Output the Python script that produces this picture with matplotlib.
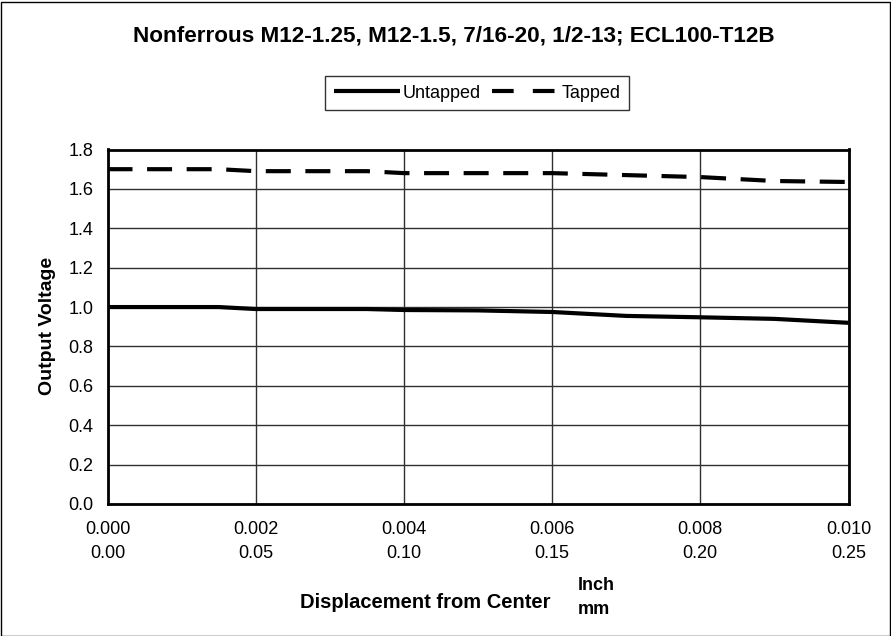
import matplotlib
matplotlib.use("Agg")
import matplotlib.pyplot as plt
from matplotlib.patches import Rectangle
from matplotlib.lines import Line2D

plt.rcParams['font.family'] = ['Liberation Sans', 'DejaVu Sans']

title = "Nonferrous M12-1.25, M12-1.5, 7/16-20, 1/2-13; ECL100-T12B"
x_inch = [0.000, 0.0015, 0.002, 0.0035, 0.004, 0.005, 0.006, 0.007, 0.008, 0.009, 0.010]
untapped = [1.00, 1.00, 0.99, 0.99, 0.985, 0.983, 0.975, 0.955, 0.948, 0.94, 0.92]
tapped = [1.70, 1.70, 1.69, 1.69, 1.68, 1.68, 1.68, 1.67, 1.66, 1.64, 1.635]
inch_ticks = [0.000, 0.002, 0.004, 0.006, 0.008, 0.010]
inch_labels = ["0.000", "0.002", "0.004", "0.006", "0.008", "0.010"]
mm_labels = ["0.00", "0.05", "0.10", "0.15", "0.20", "0.25"]
y_ticks = [0.0, 0.2, 0.4, 0.6, 0.8, 1.0, 1.2, 1.4, 1.6, 1.8]

W, H = 891, 636
FS = 13
fig = plt.figure(figsize=(W / 100, H / 100), dpi=100)
fig.patches.append(Rectangle((0.5 / W, 0.5 / H), 1 - 2 / W, 1 - 2 / H, transform=fig.transFigure,
                             fill=False, edgecolor='black', linewidth=1.0))

ax_l, ax_r, ax_t, ax_b = 107.5, 848.5, 149.5, 504
ax = fig.add_axes([ax_l / W, 1 - ax_b / H, (ax_r - ax_l) / W, (ax_b - ax_t) / H])
ax.plot(x_inch, untapped, color='black', lw=3.0, solid_capstyle='butt')
ax.plot(x_inch, tapped, color='black', lw=3.0, dashes=(6, 3.5), dash_capstyle='butt')

ax.set_xlim(0, 0.010)
ax.set_ylim(0, 1.8)
ax.set_yticks(y_ticks)
ax.set_yticklabels([f"{v:.1f}" for v in y_ticks], fontsize=FS)
ax.set_xticks(inch_ticks)
ax.set_xticklabels([])
ax.tick_params(axis='both', length=0)
ax.tick_params(axis='y', pad=10)
ax.grid(True, color='#303030', lw=1.0)
for s in ax.spines.values():
    s.set_linewidth(2.0)
    s.set_color('black')

ah = ax_b - ax_t
trans = ax.get_xaxis_transform()
for xt, lab in zip(inch_ticks, inch_labels):
    ax.text(xt, (ax_b - 529) / ah, lab, fontsize=FS, ha='center', va='center',
            transform=trans, clip_on=False)
for xt, lab in zip(inch_ticks, mm_labels):
    ax.text(xt, (ax_b - 553) / ah, lab, fontsize=FS, ha='center', va='center',
            transform=trans, clip_on=False)

fig.text(48 / W, 1 - 326 / H, "Output Voltage", fontsize=14, fontweight='bold',
         rotation=90, ha='center', va='center')
fig.text(425 / W, 1 - 603 / H, "Displacement from Center", fontsize=14.5, fontweight='bold',
         ha='center', va='center')
fig.text(578 / W, 1 - 585 / H, "Inch", fontsize=FS, fontweight='bold', ha='left', va='center')
fig.text(578 / W, 1 - 609 / H, "mm", fontsize=FS, fontweight='bold', ha='left', va='center')

fig.text(454 / W, 1 - 36 / H, title, fontsize=16.2, fontweight='bold', ha='center', va='center')

h1 = Line2D([], [], color='black', lw=3.0, solid_capstyle='butt')
h2 = Line2D([], [], color='black', lw=3.0, dashes=(5.2, 4.6), dash_capstyle='butt')
leg = fig.legend(handles=[h1, h2], labels=['Untapped', 'Tapped'], loc='center',
                 bbox_to_anchor=(477 / W, 1 - 93 / H), ncol=2,
                 frameon=True, fancybox=False, edgecolor='black', fontsize=FS,
                 handlelength=3.7, handletextpad=0.15, columnspacing=0.6, borderpad=0.45,
                 borderaxespad=0)
leg.get_frame().set_linewidth(1.0)

fig.savefig("out.png", dpi=100)
